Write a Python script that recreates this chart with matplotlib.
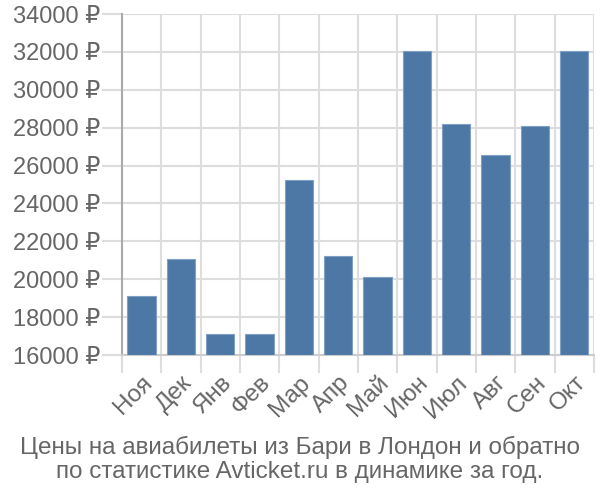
import matplotlib
matplotlib.use("Agg")
import matplotlib.pyplot as plt
import numpy as np

months = ["Ноя", "Дек", "Янв", "Фев", "Мар", "Апр", "Май", "Июн", "Июл", "Авг", "Сен", "Окт"]
prices = [19100, 21090, 17090, 17090, 25240, 21240, 20100, 32070, 28180, 26580, 28070, 32070]
yticks = list(range(16000, 34001, 2000))
title_lines = ["Цены на авиабилеты из Бари в Лондон и обратно",
               "по статистике Avticket.ru в динамике за год."]

plt.rcParams["font.family"] = ["Liberation Sans", "DejaVu Sans"]
TEXT = "#666666"
GRID = "#dddddd"
FS = 17.5

fig = plt.figure(figsize=(6, 5), dpi=100)
ax = fig.add_axes([0.203, 0.29, 0.787, 0.682])

x = np.arange(len(months))
ax.bar(x, np.array(prices) - 16000, bottom=16000, width=0.72,
       color="#4d78a6", edgecolor="#7f9fc4", linewidth=0.8, zorder=3)

ax.set_xlim(-0.5, len(months) - 0.5)
ax.set_ylim(16000, 34000)

ax.set_yticks(yticks)
ax.set_yticklabels([f"{v} ₽" for v in yticks], fontsize=17, color=TEXT)
ax.set_xticks(x)
ax.set_xticklabels(months, rotation=45, ha="right", va="top", rotation_mode="anchor",
                   fontsize=FS, color=TEXT)
ax.set_xticks(np.arange(-0.5, len(months)), minor=True)

# длины делений в пунктах: 14.4 pt ≈ 20 px при dpi=100
ax.tick_params(axis="x", which="major", length=0, pad=12)
ax.tick_params(axis="x", which="minor", length=13, width=1.5, color=GRID)
ax.tick_params(axis="y", length=14.4, width=1.5, color=GRID, pad=1)

ax.grid(axis="y", color=GRID, linewidth=1.5, zorder=0)
ax.grid(axis="x", which="minor", color=GRID, linewidth=1.5, zorder=0)

for side in ("top", "right"):
    ax.spines[side].set_visible(False)
ax.spines["left"].set_color("#aaaaaa")
ax.spines["left"].set_linewidth(1.5)
ax.spines["bottom"].set_color("#cccccc")
ax.spines["bottom"].set_linewidth(1.5)

fig.text(0.5, 0.106, title_lines[0], ha="center", va="center", fontsize=FS, color=TEXT)
fig.text(0.5, 0.056, title_lines[1], ha="center", va="center", fontsize=FS, color=TEXT)

fig.savefig("out.png", dpi=100)
